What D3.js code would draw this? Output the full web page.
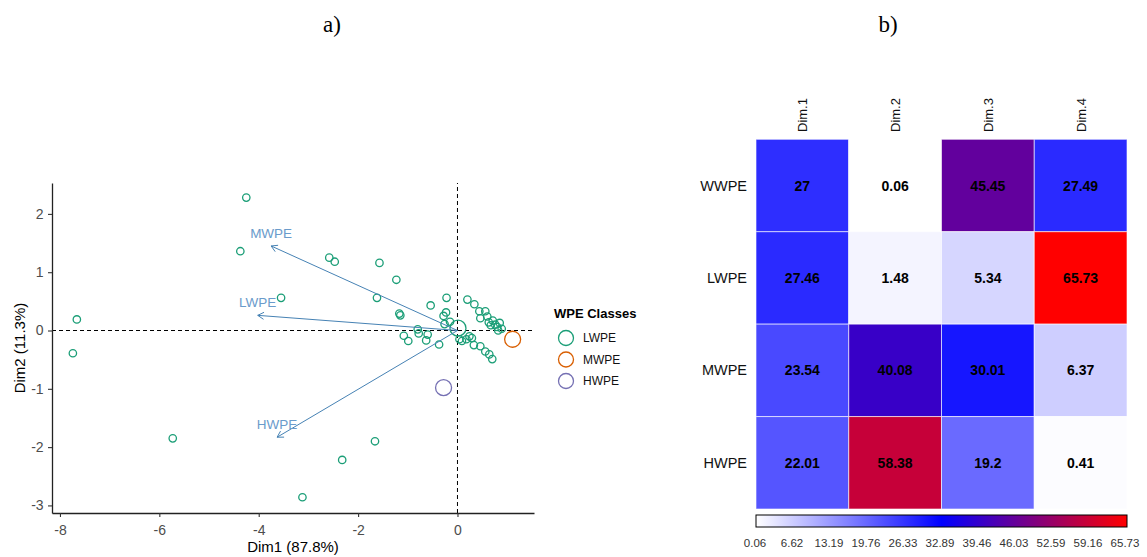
<!DOCTYPE html>
<html>
<head>
<meta charset="utf-8">
<script src="https://cdn.jsdelivr.net/npm/d3@7"></script>
<style>
  html, body { margin: 0; padding: 0; background: #fff; }
  svg { display: block; }
</style>
</head>
<body>
<svg id="chart" width="1147" height="557"></svg>
<script>
// ---------- DATA ----------
// Biplot individuals (LWPE class)
const lwpeX = [-7.66, -7.74, -4.25, -4.37, -3.55, -5.73, -1.66, -2.32, -3.12,
  -2.58, -2.47, -1.57, -1.23, -1.62, -0.22, -0.54, -1.17, -1.15, -0.28, -0.23,
  -0.15, -0.26, -0.80, -0.78, -1.08, -0.99, -0.60, -0.63, -0.37, 0.04,
  0.20, 0.34, 0.44, 0.46, 0.56, 0.60, 0.63, 0.71, 0.76, 0.80, 0.85, 0.89, 0.67, 0.82,
  0.24, 0.29, 0.18, 0.09, 0.33, 0.46, 0.56, 0.64, 0.70];
const lwpeY = [0.19, -0.39, 2.28, 1.36, 0.56, -1.85, -1.90, -2.22, -2.86,
  1.25, 1.18, 1.16, 0.87, 0.56, 0.56, 0.43, 0.29, 0.26, 0.25, 0.31,
  0.15, 0.11, 0.02, -0.05, -0.09, -0.18, -0.07, -0.17, -0.24, -0.15,
  0.53, 0.45, 0.33, 0.21, 0.33, 0.24, 0.14, 0.17, 0.10, 0.06, 0.13, 0.03, 0.09, 0.00,
  -0.10, -0.13, -0.15, -0.18, -0.25, -0.27, -0.36, -0.41, -0.49];
// Class means
const classNames = ["LWPE", "MWPE", "HWPE"];
const classColors = ["#1B9E77", "#D95F02", "#7570B3"];
const meanX = [0.01, 1.11, -0.28];
const meanY = [0.04, -0.15, -0.98];
// Variable arrows
const varNames = ["MWPE", "LWPE", "HWPE"];
const varX = [-3.75, -4.02, -3.63];
const varY = [1.45, 0.26, -1.83];
const xTicks = [-8, -6, -4, -2, 0];
const yTicks = [-3, -2, -1, 0, 1, 2];

// Heatmap (contributions)
const dims = ["Dim.1", "Dim.2", "Dim.3", "Dim.4"];
const rowsHM = ["WWPE", "LWPE", "MWPE", "HWPE"];
const hmWWPE = [27, 0.06, 45.45, 27.49];
const hmLWPE = [27.46, 1.48, 5.34, 65.73];
const hmMWPE = [23.54, 40.08, 30.01, 6.37];
const hmHWPE = [22.01, 58.38, 19.2, 0.41];
const cbarLabels = ["0.06", "6.62", "13.19", "19.76", "26.33", "32.89", "39.46", "46.03", "52.59", "59.16", "65.73"];

// ---------- DRAW ----------
const svg = d3.select("#chart");
const sans = "Liberation Sans, Arial, sans-serif";

// panel labels
svg.append("text").attr("x", 332).attr("y", 32).attr("text-anchor", "middle")
  .style("font-family", "Liberation Serif, Times New Roman, serif").style("font-size", "23px").text("a)");
svg.append("text").attr("x", 888).attr("y", 32).attr("text-anchor", "middle")
  .style("font-family", "Liberation Serif, Times New Roman, serif").style("font-size", "23px").text("b)");

// ----- Biplot -----
const x = d3.scaleLinear().domain([-8.16, 1.54]).range([52, 534]);
const y = d3.scaleLinear().domain([-3.13, 2.53]).range([513, 183]);
const g = svg.append("g");

// reference dashed lines
g.append("line").attr("x1", x.range()[0]).attr("x2", x.range()[1]).attr("y1", y(0)).attr("y2", y(0))
  .attr("stroke", "#000").attr("stroke-width", 1).attr("stroke-dasharray", "4,3");
g.append("line").attr("x1", x(0)).attr("x2", x(0)).attr("y1", y.range()[0]).attr("y2", y.range()[1])
  .attr("stroke", "#000").attr("stroke-width", 1).attr("stroke-dasharray", "4,3");

// individuals
const pts = lwpeX.map((d, i) => ({x: d, y: lwpeY[i]}));
g.selectAll("circle.ind").data(pts).enter().append("circle")
  .attr("class", "ind").attr("cx", d => x(d.x)).attr("cy", d => y(d.y)).attr("r", 3.7)
  .attr("fill", "none").attr("stroke", classColors[0]).attr("stroke-width", 1.3);

// class means
const means = classNames.map((n, i) => ({n, x: meanX[i], y: meanY[i], c: classColors[i]}));
g.selectAll("circle.mean").data(means).enter().append("circle")
  .attr("cx", d => x(d.x)).attr("cy", d => y(d.y)).attr("r", 8)
  .attr("fill", "none").attr("stroke", d => d.c).attr("stroke-width", 1.3);

// variable arrows
const arrowCol = "#4682B4";
const vars = varNames.map((n, i) => ({n, x: varX[i], y: varY[i]}));
vars.forEach(v => {
  const x0 = x(0), y0 = y(0), x1 = x(v.x), y1 = y(v.y);
  g.append("line").attr("x1", x0).attr("y1", y0).attr("x2", x1).attr("y2", y1)
    .attr("stroke", arrowCol).attr("stroke-width", 1);
  const ang = Math.atan2(y1 - y0, x1 - x0);
  const L = 7, a = Math.PI / 6;
  const p = [[x1 - L * Math.cos(ang - a), y1 - L * Math.sin(ang - a)], [x1, y1],
             [x1 - L * Math.cos(ang + a), y1 - L * Math.sin(ang + a)]];
  g.append("path").attr("d", d3.line()(p)).attr("fill", "none")
    .attr("stroke", arrowCol).attr("stroke-width", 1);
  g.append("text").attr("x", x1).attr("y", y1 - 8).attr("text-anchor", "middle")
    .style("font-family", sans).style("font-size", "13.5px").attr("fill", "#6A9BCB").text(v.n);
});

// axes
const fmt = d => String(d);
const xAxis = g.append("g").attr("transform", `translate(0,${y.range()[0]})`)
  .call(d3.axisBottom(x).tickValues(xTicks).tickSize(4).tickSizeOuter(0).tickFormat(fmt));
const yAxis = g.append("g").attr("transform", `translate(${x.range()[0]},0)`)
  .call(d3.axisLeft(y).tickValues(yTicks).tickSize(4).tickSizeOuter(0).tickFormat(fmt));
[xAxis, yAxis].forEach(ax => {
  ax.select(".domain").attr("stroke", "#222").attr("stroke-width", 1.3);
  ax.selectAll(".tick line").attr("stroke", "#333").attr("stroke-width", 1.1);
  ax.selectAll(".tick text").attr("fill", "#4D4D4D").style("font-family", sans).style("font-size", "14px");
});
xAxis.selectAll(".tick text").attr("dy", "1.05em");
yAxis.selectAll(".tick text").attr("dx", "-0.1em");

g.append("text").attr("x", (x.range()[0] + x.range()[1]) / 2).attr("y", 552).attr("text-anchor", "middle")
  .style("font-family", sans).style("font-size", "15px").attr("fill", "#000").text("Dim1 (87.8%)");
g.append("text").attr("transform", `translate(25,${(y.range()[0] + y.range()[1]) / 2}) rotate(-90)`)
  .attr("text-anchor", "middle").style("font-family", sans).style("font-size", "15px")
  .attr("fill", "#000").text("Dim2 (11.3%)");

// legend
const lg = svg.append("g");
lg.append("text").attr("x", 554).attr("y", 318).style("font-family", sans).style("font-size", "13px")
  .style("font-weight", "bold").text("WPE Classes");
classNames.forEach((n, i) => {
  const cy = 338 + i * 21.5;
  lg.append("circle").attr("cx", 566).attr("cy", cy).attr("r", 7.5).attr("fill", "none")
    .attr("stroke", classColors[i]).attr("stroke-width", 1.3);
  lg.append("text").attr("x", 583).attr("y", cy + 4.3).style("font-family", sans)
    .style("font-size", "12px").attr("fill", "#111").text(n);
});

// ----- Heatmap -----
const hmVals = [hmWWPE, hmLWPE, hmMWPE, hmHWPE];
const allVals = hmVals.flat();
const vmin = d3.min(allVals), vmax = d3.max(allVals);
const color = d3.scaleLinear().domain([vmin, (vmin + vmax) / 2, vmax])
  .range(["#ffffff", "#0000ff", "#ff0000"]).interpolate(d3.interpolateRgb);
const hx = d3.scaleBand().domain(dims).range([756, 1127]);
const hy = d3.scaleBand().domain(rowsHM).range([139.3, 509]);
const cells = [];
rowsHM.forEach((r, i) => dims.forEach((c, j) => cells.push({r, c, v: hmVals[i][j]})));
const hg = svg.append("g");
hg.selectAll("rect.cell").data(cells).enter().append("rect")
  .attr("x", d => hx(d.c)).attr("y", d => hy(d.r)).attr("width", hx.bandwidth()).attr("height", hy.bandwidth())
  .attr("fill", d => color(d.v)).attr("stroke", "#ffffff").attr("stroke-opacity", 0.6).attr("stroke-width", 1);
hg.selectAll("text.val").data(cells).enter().append("text")
  .attr("x", d => hx(d.c) + hx.bandwidth() / 2).attr("y", d => hy(d.r) + hy.bandwidth() / 2 + 5)
  .attr("text-anchor", "middle").style("font-family", sans).style("font-size", "14px")
  .style("font-weight", "bold").attr("fill", "#000").text(d => d.v);
hg.selectAll("text.row").data(rowsHM).enter().append("text")
  .attr("x", 747).attr("y", d => hy(d) + hy.bandwidth() / 2 + 5).attr("text-anchor", "end")
  .style("font-family", sans).style("font-size", "14.5px").attr("fill", "#111").text(d => d);
hg.selectAll("text.col").data(dims).enter().append("text")
  .attr("transform", d => `translate(${hx(d) + hx.bandwidth() / 2 + 5},132) rotate(-90)`)
  .attr("text-anchor", "start").style("font-family", sans).style("font-size", "13px")
  .attr("fill", "#111").text(d => d);

// colour bar
const defs = svg.append("defs");
const grad = defs.append("linearGradient").attr("id", "cbar").attr("x1", "0%").attr("x2", "100%");
d3.range(0, 1.0001, 0.05).forEach(t => {
  grad.append("stop").attr("offset", (t * 100) + "%").attr("stop-color", color(vmin + t * (vmax - vmin)));
});
svg.append("rect").attr("x", 756).attr("y", 515).attr("width", 371).attr("height", 12)
  .attr("fill", "url(#cbar)").attr("stroke", "#000").attr("stroke-width", 1);
const cb = d3.scalePoint().domain(cbarLabels).range([755, 1125]);
svg.selectAll("text.cb").data(cbarLabels).enter().append("text")
  .attr("x", d => cb(d)).attr("y", 547).attr("text-anchor", "middle")
  .style("font-family", sans).style("font-size", "11.5px").attr("fill", "#333").text(d => d);
</script>
</body>
</html>
